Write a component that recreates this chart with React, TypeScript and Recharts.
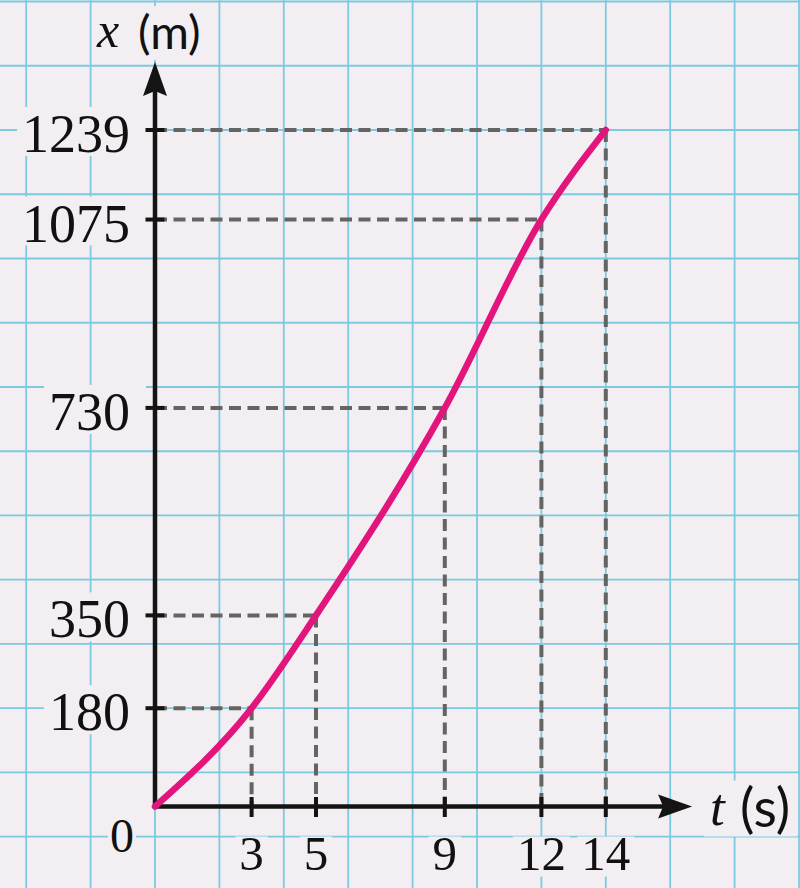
import React from 'react';
import { ComposedChart, XAxis, YAxis, Line, ReferenceLine, ReferenceDot } from 'recharts';

// ---- data ----
const times = [0, 3, 5, 9, 12, 14];
const positions = [0, 180, 350, 730, 1075, 1239];
const xTickValues = [3, 5, 9, 12, 14];
const xTickLabels = ['3', '5', '9', '12', '14'];
const yTickValues = [180, 350, 730, 1075, 1239];
const yTickLabels = ['180', '350', '730', '1075', '1239'];
const originLabel = '0';
const yTitleVar = 'x';
const yTitleUnit = '(m)';
const xTitleVar = 't';
const xTitleUnit = '(s)';

// grid (graph paper): vertical every 2 s, horizontal every (1239-180)/9 m through 180
const gridTimes = [-4, -2, 0, 2, 4, 6, 8, 10, 12, 14, 16, 18, 20];
const gridStep = (1239 - 180) / 9;
const gridPositions = [-2, -1, 0, 1, 2, 3, 4, 5, 6, 7, 8, 9, 10, 11].map((k) => 180 + k * gridStep);

const data = times.map((t, i) => ({ t, x: positions[i] }));

// ---- layout / style ----
const W = 800;
const H = 888;
const X_DOMAIN: [number, number] = [-4.8137, 20.031];
const Y_DOMAIN: [number, number] = [-149.3, 1477.1];
const X_TIP = 16.68;
const Y_TIP = 1363.6;
const X_SHAFT_END = 16.0;
const Y_SHAFT_END = 1320;

const BG = '#f2eef2';
const GRID = '#7ccae0';
const DASH = '#646464';
const AXIS = '#141414';
const CURVE = '#e3147c';
const SERIF = '"Liberation Serif", "DejaVu Serif", serif';
const SANS = 'Lato, "Open Sans", sans-serif';

const YLabel = (label: string) => (props: any) => {
  const { cx, cy } = props;
  const fs = 54;
  const w = label.length * 27;
  return (
    <g>
      <rect x={cx - 24 - w - 6} y={cy - 23} width={w + 6 + 15} height={49} fill={BG} />
      <text x={cx - 25} y={cy + 22} textAnchor="end" fontFamily={SERIF} fontSize={fs} fill="#111">
        {label}
      </text>
      <line x1={cx - 9.5} x2={cx + 9.5} y1={cy} y2={cy} stroke={AXIS} strokeWidth={4} />
    </g>
  );
};

const XLabel = (label: string) => (props: any) => {
  const { cx, cy } = props;
  const fs = 49;
  const w = label.length * 24.5;
  return (
    <g>
      <rect x={cx - w / 2 - 4} y={cy + 30} width={w + 8} height={40} fill={BG} />
      <text x={cx} y={cy + 63.5} textAnchor="middle" fontFamily={SERIF} fontSize={fs} fill="#111">
        {label}
      </text>
      <line x1={cx} x2={cx} y1={cy - 9.5} y2={cy + 10.5} stroke={AXIS} strokeWidth={4} />
    </g>
  );
};

const OriginLabel = (props: any) => {
  const { cx, cy } = props;
  return (
    <g>
      <rect x={cx - 47} y={cy + 12} width={28} height={40} fill={BG} />
      <text x={cx - 33} y={cy + 45.5} textAnchor="middle" fontFamily={SERIF} fontSize={48} fill="#111">
        {originLabel}
      </text>
    </g>
  );
};

const YArrow = (props: any) => {
  const { cx, cy } = props;
  return (
    <g>
      <rect x={cx - 61} y={cy - 56} width={121} height={54} fill={BG} />
      <text x={cx - 58} y={cy - 15} fontFamily={SERIF} fontStyle="italic" fontSize={50} fill="#111">
        {yTitleVar}
      </text>
      <text x={cx - 17} y={cy - 13} fontFamily={SANS} fontSize={47} fill="#111">
        {yTitleUnit}
      </text>
      <path d={`M${cx},${cy} L${cx + 12},${cy + 34} L${cx},${cy + 29} L${cx - 12},${cy + 34} Z`} fill={AXIS} />
    </g>
  );
};

const XArrow = (props: any) => {
  const { cx, cy } = props;
  return (
    <g>
      <rect x={cx + 12} y={cy - 26} width={93} height={56} fill={BG} />
      <text x={cx + 18} y={cy + 18.5} fontFamily={SERIF} fontStyle="italic" fontSize={53} fill="#111">
        {xTitleVar}
      </text>
      <text x={cx + 48} y={cy + 21} fontFamily={SANS} fontSize={54} fill="#111">
        {xTitleUnit}
      </text>
      <path d={`M${cx},${cy} L${cx - 34},${cy - 12} L${cx - 29},${cy} L${cx - 34},${cy + 12} Z`} fill={AXIS} />
    </g>
  );
};

export default function App() {
  return (
    <div style={{ position: 'absolute', left: 0, top: 0, width: W, height: H, background: BG }}>
      <ComposedChart width={W} height={H} data={data} margin={{ top: 0, right: 0, bottom: 0, left: 0 }}>
        <XAxis dataKey="t" type="number" domain={X_DOMAIN} allowDataOverflow hide />
        <YAxis type="number" domain={Y_DOMAIN} allowDataOverflow hide />

        {gridTimes.map((t) => (
          <ReferenceLine key={`gv${t}`} x={t} stroke={GRID} strokeWidth={1.8} />
        ))}
        {gridPositions.map((v, i) => (
          <ReferenceLine key={`gh${i}`} y={v} stroke={GRID} strokeWidth={1.8} />
        ))}

        {yTickValues.map((v, i) => (
          <ReferenceLine
            key={`dh${i}`}
            segment={[{ x: 0, y: v }, { x: times[i + 1], y: v }]}
            stroke={DASH}
            strokeWidth={4}
            strokeDasharray="12 6.5"
          />
        ))}
        {xTickValues.map((t, i) => (
          <ReferenceLine
            key={`dv${i}`}
            segment={[{ x: t, y: positions[i + 1] }, { x: t, y: 0 }]}
            stroke={DASH}
            strokeWidth={4}
            strokeDasharray="12 6.5"
          />
        ))}

        <ReferenceLine segment={[{ x: 0, y: 0 }, { x: X_SHAFT_END, y: 0 }]} stroke={AXIS} strokeWidth={4.5} />
        <ReferenceLine segment={[{ x: 0, y: 0 }, { x: 0, y: Y_SHAFT_END }]} stroke={AXIS} strokeWidth={4.5} />

        {yTickValues.map((v, i) => (
          <ReferenceDot key={`yl${i}`} x={0} y={v} r={1} shape={YLabel(yTickLabels[i])} />
        ))}
        {xTickValues.map((t, i) => (
          <ReferenceDot key={`xl${i}`} x={t} y={0} r={1} shape={XLabel(xTickLabels[i])} />
        ))}
        <ReferenceDot x={0} y={0} r={1} shape={OriginLabel} />
        <ReferenceDot x={0} y={Y_TIP} r={1} shape={YArrow} />
        <ReferenceDot x={X_TIP} y={0} r={1} shape={XArrow} />

        <Line
          dataKey="x"
          type="monotone"
          stroke={CURVE}
          strokeWidth={6.5}
          strokeLinecap="round"
          dot={false}
          activeDot={false}
          isAnimationActive={false}
        />
      </ComposedChart>
    </div>
  );
}
